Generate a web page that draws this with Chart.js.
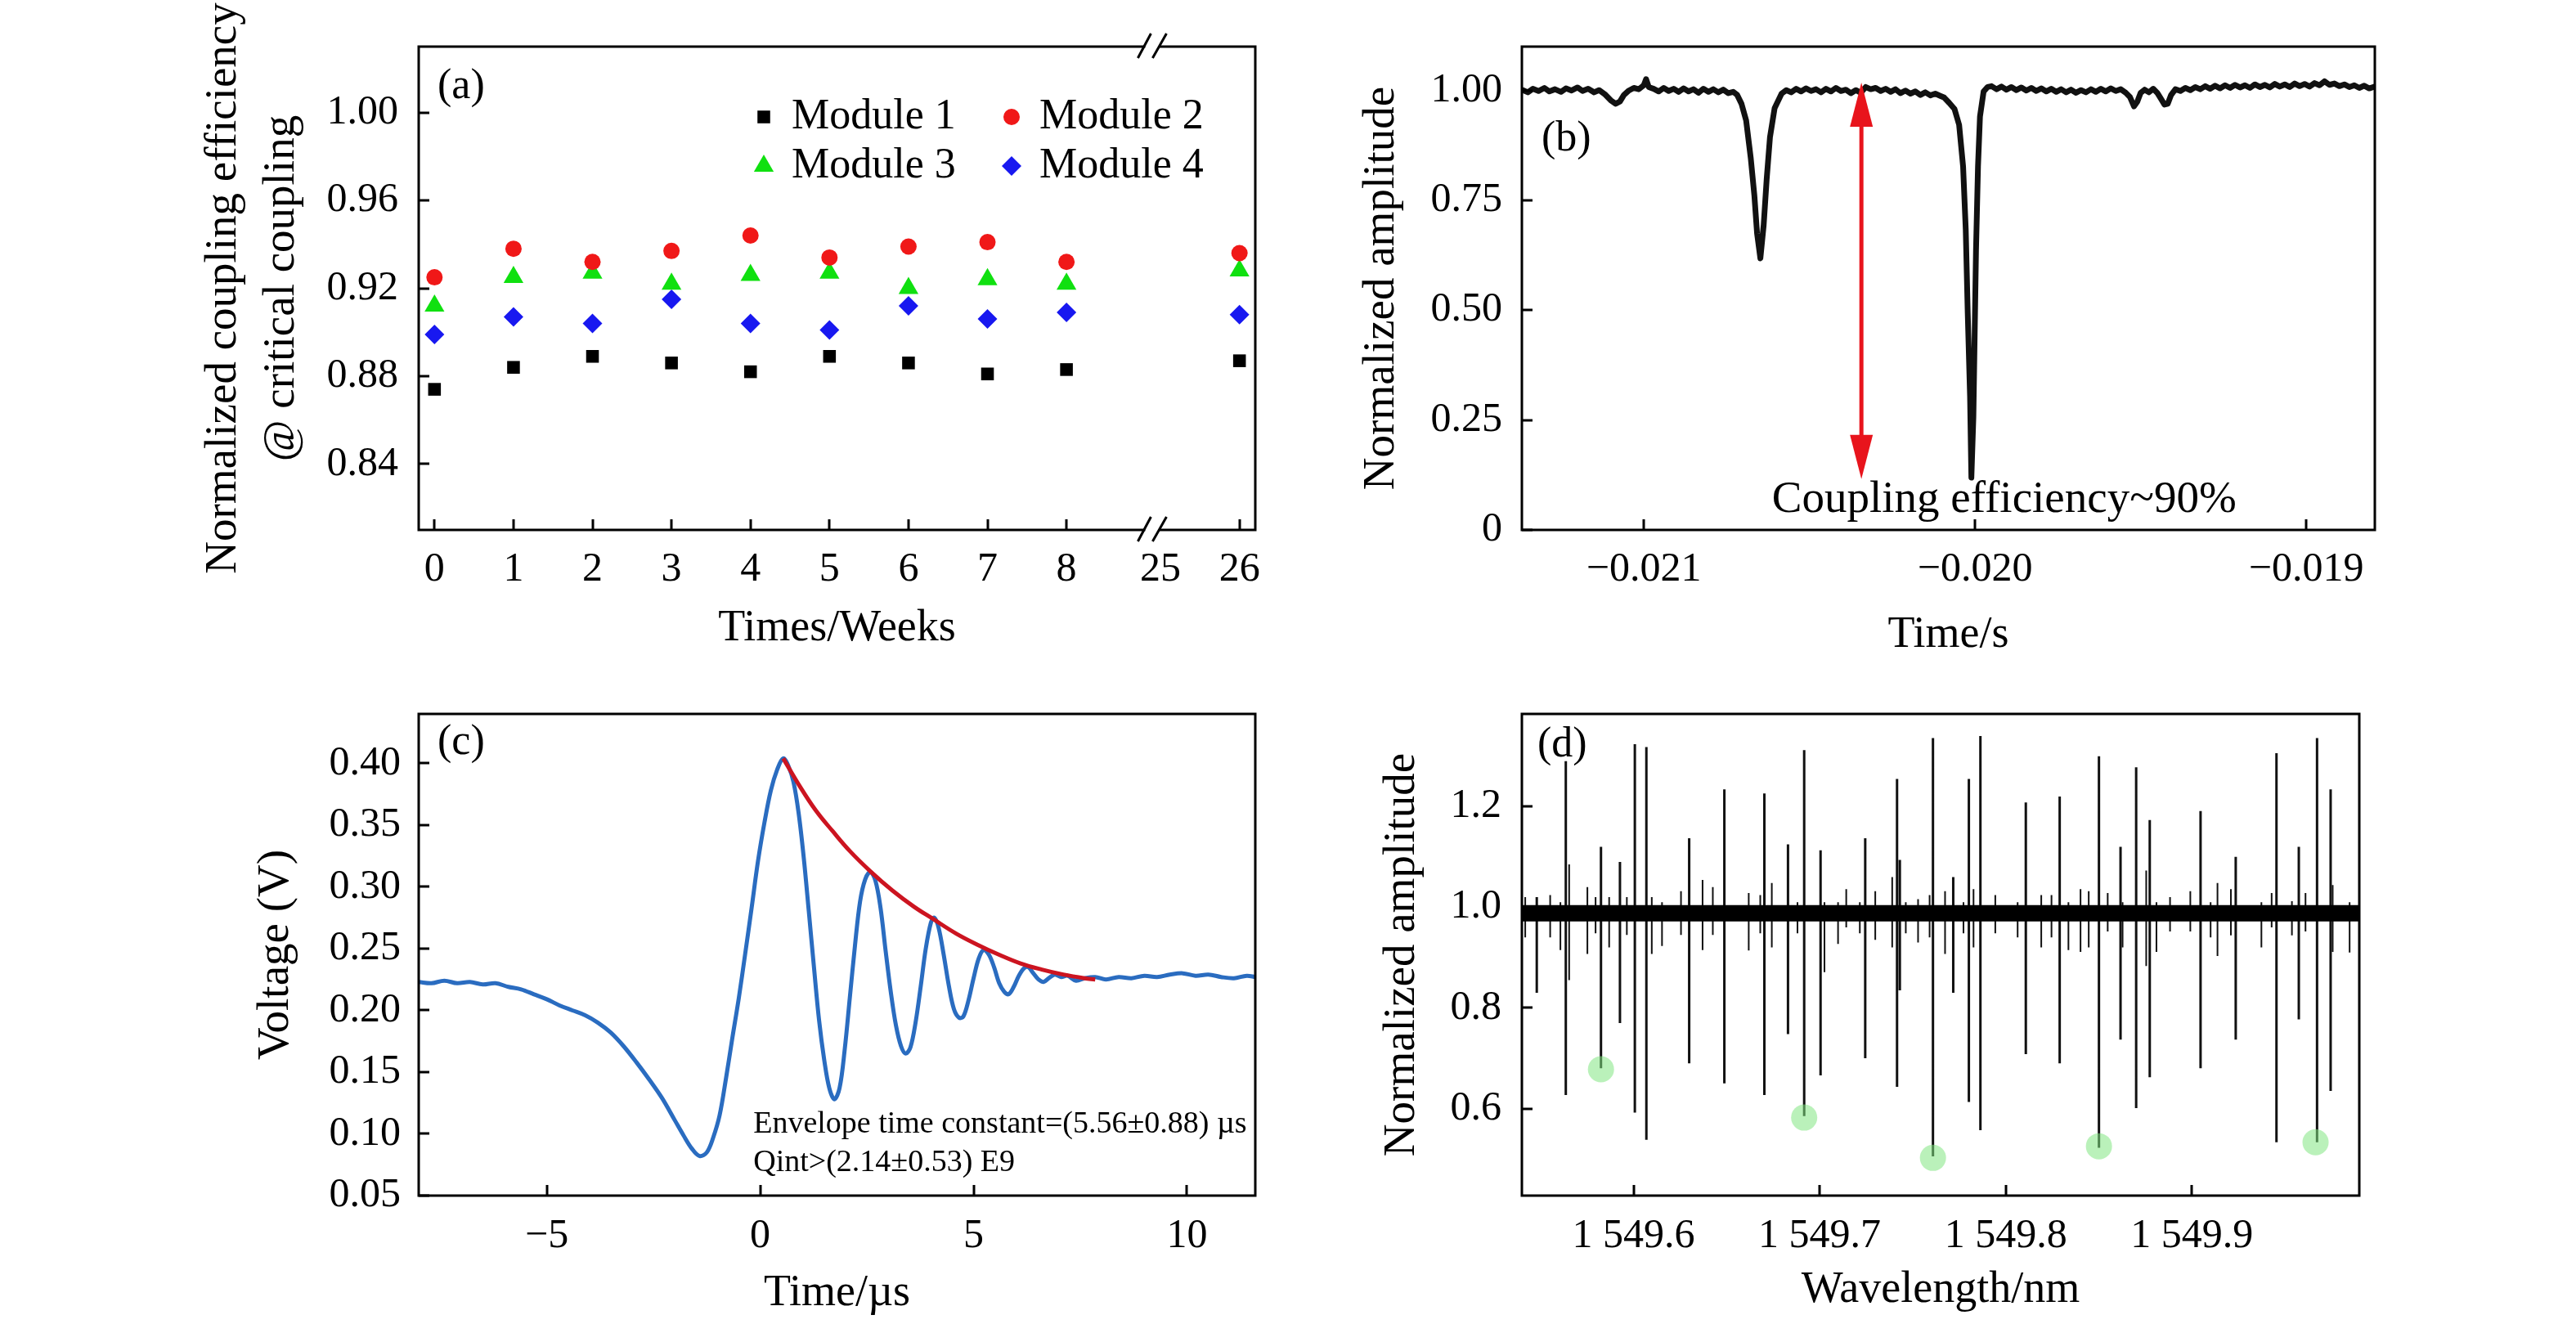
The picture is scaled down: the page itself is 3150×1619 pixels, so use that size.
<!DOCTYPE html>
<html>
<head>
<meta charset="utf-8">
<title>Coupling efficiency, transmission, ring-down and spectrum</title>
<script src="https://cdn.jsdelivr.net/npm/chart.js@4.4.1/dist/chart.umd.min.js"></script>
<style>
  html, body { margin: 0; padding: 0; background: #fff; }
  body { width: 3150px; height: 1619px; position: relative; overflow: hidden; }
  canvas { position: absolute; }
</style>
</head>
<body>
<canvas id="chartA" width="1575" height="810" style="left:0;top:0;width:1575px;height:810px"></canvas>
<canvas id="chartB" width="1575" height="810" style="left:1575px;top:0;width:1575px;height:810px"></canvas>
<canvas id="chartC" width="1575" height="809" style="left:0;top:810px;width:1575px;height:809px"></canvas>
<canvas id="chartD" width="1575" height="809" style="left:1575px;top:810px;width:1575px;height:809px"></canvas>
<script>
const FONT = '"Liberation Serif", "Times New Roman", serif';
Chart.defaults.font.family = FONT;
Chart.defaults.color = '#000';

// ---- (a) coupling efficiency over time ----
const weeks = [0, 1, 2, 3, 4, 5, 6, 7, 8, 26];
const module1 = [0.874, 0.884, 0.889, 0.886, 0.882, 0.889, 0.886, 0.881, 0.883, 0.887];
const module2 = [0.925, 0.938, 0.932, 0.937, 0.944, 0.934, 0.939, 0.941, 0.932, 0.936];
const module3 = [0.912, 0.925, 0.927, 0.922, 0.926, 0.927, 0.920, 0.924, 0.922, 0.928];
const module4 = [0.899, 0.907, 0.904, 0.915, 0.904, 0.901, 0.912, 0.906, 0.909, 0.908];
const weekTicks = [0, 1, 2, 3, 4, 5, 6, 7, 8, 25, 26];
const effTicks = [0.84, 0.88, 0.92, 0.96, 1.00];

// broken time axis: 8 -> 25 squeezed into a short gap
const breakAt = 8, resumeAt = 25, breakGap = 1.19;
const axisPos = w => (w <= breakAt ? w : w - resumeAt + breakAt + breakGap);

// ---- (b) transmission trace ----
const bTime = [
  -0.021368, -0.021350, -0.021335, -0.021318, -0.021300, -0.021285, -0.021268, -0.021250, -0.021235, -0.021218,
  -0.021200, -0.021185, -0.021168, -0.021150, -0.021135, -0.021118, -0.021100, -0.021085, -0.021072, -0.021060,
  -0.021045, -0.021030, -0.021015, -0.021000, -0.020993, -0.020985, -0.020970, -0.020955, -0.020940, -0.020925,
  -0.020910, -0.020895, -0.020880, -0.020865, -0.020850, -0.020835, -0.020820, -0.020805, -0.020790, -0.020775,
  -0.020760, -0.020745, -0.020730, -0.020718, -0.020705, -0.020691, -0.020677, -0.020666, -0.020658, -0.020648,
  -0.020638, -0.020629, -0.020619, -0.020605, -0.020584, -0.020570, -0.020555, -0.020540, -0.020525, -0.020510,
  -0.020495, -0.020480, -0.020465, -0.020450, -0.020435, -0.020420, -0.020405, -0.020390, -0.020375, -0.020360,
  -0.020345, -0.020330, -0.020315, -0.020300, -0.020285, -0.020270, -0.020255, -0.020240, -0.020225, -0.020210,
  -0.020195, -0.020180, -0.020165, -0.020150, -0.020135, -0.020120, -0.020105, -0.020093, -0.020078, -0.020062,
  -0.020048, -0.020036, -0.020028, -0.020022, -0.020015, -0.020011, -0.020005, -0.020001, -0.019997, -0.019991,
  -0.019985, -0.019974, -0.019962, -0.019950, -0.019935, -0.019920, -0.019905, -0.019890, -0.019875, -0.019860,
  -0.019845, -0.019830, -0.019815, -0.019800, -0.019785, -0.019770, -0.019755, -0.019740, -0.019725, -0.019710,
  -0.019695, -0.019680, -0.019665, -0.019650, -0.019635, -0.019620, -0.019605, -0.019590, -0.019575, -0.019560,
  -0.019545, -0.019532, -0.019520, -0.019510, -0.019500, -0.019488, -0.019475, -0.019462, -0.019450, -0.019440,
  -0.019428, -0.019418, -0.019408, -0.019395, -0.019380, -0.019365, -0.019350, -0.019335, -0.019320, -0.019305,
  -0.019290, -0.019275, -0.019260, -0.019245, -0.019230, -0.019215, -0.019200, -0.019185, -0.019170, -0.019155,
  -0.019140, -0.019125, -0.019110, -0.019095, -0.019080, -0.019065, -0.019050, -0.019035, -0.019020, -0.019005,
  -0.018990, -0.018975, -0.018960, -0.018945, -0.018930, -0.018915, -0.018900, -0.018885, -0.018870, -0.018855,
  -0.018840, -0.018825, -0.018810, -0.018793
];
const bAmp = [
  1.002, 0.996, 1.004, 0.999, 1.006, 0.998, 1.003, 0.997, 1.005, 1.000,
  1.007, 0.999, 1.004, 0.996, 1.001, 0.992, 0.978, 0.970, 0.975, 0.990,
  1.000, 1.006, 1.003, 1.012, 1.026, 1.008, 1.004, 0.998, 1.006, 0.999,
  1.004, 0.997, 1.005, 0.998, 1.003, 0.995, 1.004, 0.997, 1.003, 0.996,
  1.002, 0.994, 0.997, 0.990, 0.970, 0.932, 0.846, 0.760, 0.675, 0.618,
  0.694, 0.798, 0.894, 0.960, 0.993, 1.001, 0.996, 1.004, 0.998, 1.005,
  0.999, 1.003, 0.996, 1.004, 0.998, 1.006, 0.999, 1.002, 0.994, 1.001,
  0.995, 1.008, 1.003, 1.006, 0.999, 1.004, 0.997, 1.003, 0.994, 1.000,
  0.993, 0.998, 0.990, 0.996, 0.989, 0.993, 0.988, 0.984, 0.972, 0.958,
  0.922, 0.827, 0.684, 0.494, 0.304, 0.119, 0.257, 0.447, 0.637, 0.827,
  0.941, 0.998, 1.008, 1.010, 1.003, 1.009, 1.002, 1.008, 1.001, 1.007,
  1.000, 1.006, 0.999, 1.005, 0.998, 1.004, 0.997, 1.003, 0.996, 1.002,
  0.995, 1.001, 0.996, 1.003, 0.997, 1.004, 0.998, 1.005, 0.999, 1.003,
  0.995, 0.985, 0.964, 0.975, 0.995, 1.002, 0.996, 1.004, 0.995, 0.983,
  0.968, 0.970, 0.990, 1.003, 0.999, 1.006, 1.001, 1.008, 1.003, 1.010,
  1.004, 1.011, 1.005, 1.012, 1.006, 1.013, 1.007, 1.012, 1.006, 1.014,
  1.008, 1.013, 1.007, 1.015, 1.009, 1.014, 1.008, 1.016, 1.010, 1.015,
  1.009, 1.017, 1.012, 1.021, 1.013, 1.016, 1.010, 1.014, 1.008, 1.012,
  1.006, 1.011, 1.005, 1.009
];
const bTimeTicks = [-0.021, -0.020, -0.019];
const bAmpTicks = [0, 0.25, 0.50, 0.75, 1.00];
const arrowTime = -0.020343, arrowTop = 1.018, arrowBottom = 0.116;

// ---- (c) ring-down ----
const cTime = [
  -8.00, -7.70, -7.40, -7.10, -6.80, -6.50, -6.20, -5.90, -5.60, -5.30,
  -5.00, -4.70, -4.40, -4.10, -3.80, -3.50, -3.20, -2.90, -2.60, -2.30,
  -2.00, -1.80, -1.60, -1.42, -1.25, -1.10, -0.95, -0.80, -0.65, -0.50,
  -0.35, -0.20, -0.05, 0.10, 0.25, 0.40, 0.54, 0.66, 0.78, 0.90,
  1.02, 1.14, 1.26, 1.38, 1.50, 1.62, 1.74, 1.86, 1.98, 2.10,
  2.22, 2.34, 2.46, 2.58, 2.70, 2.82, 2.94, 3.06, 3.18, 3.30,
  3.41, 3.52, 3.64, 3.76, 3.88, 4.00, 4.08, 4.18, 4.30, 4.42,
  4.54, 4.66, 4.76, 4.88, 5.00, 5.12, 5.24, 5.36, 5.48, 5.60,
  5.72, 5.82, 5.94, 6.06, 6.18, 6.28, 6.40, 6.52, 6.64, 6.76,
  6.90, 7.05, 7.20, 7.40, 7.60, 7.85, 8.10, 8.40, 8.70, 9.00,
  9.30, 9.60, 9.90, 10.20, 10.50, 10.80, 11.10, 11.40, 11.60
];
const cVolt = [
  0.223, 0.222, 0.224, 0.222, 0.223, 0.221, 0.222, 0.219, 0.217, 0.213,
  0.209, 0.204, 0.200, 0.196, 0.190, 0.182, 0.171, 0.158, 0.144, 0.129,
  0.111, 0.099, 0.088, 0.082, 0.085, 0.097, 0.115, 0.145, 0.178, 0.210,
  0.246, 0.283, 0.321, 0.352, 0.378, 0.395, 0.404, 0.398, 0.385, 0.360,
  0.324, 0.280, 0.235, 0.192, 0.160, 0.137, 0.128, 0.137, 0.168, 0.210,
  0.252, 0.288, 0.306, 0.312, 0.305, 0.283, 0.248, 0.215, 0.188, 0.171,
  0.165, 0.170, 0.190, 0.219, 0.250, 0.271, 0.275, 0.267, 0.245, 0.220,
  0.201, 0.194, 0.195, 0.208, 0.226, 0.242, 0.249, 0.245, 0.235, 0.222,
  0.215, 0.213, 0.219, 0.228, 0.234, 0.235, 0.230, 0.225, 0.223, 0.226,
  0.229, 0.227, 0.228, 0.224, 0.226, 0.227, 0.225, 0.227, 0.226, 0.228,
  0.227, 0.229, 0.230, 0.228, 0.229, 0.227, 0.226, 0.228, 0.227
];
const cEnvTime = [0.54, 0.90, 1.30, 1.70, 2.10, 2.60, 3.10, 3.60, 4.05, 4.60, 5.10, 5.60, 6.10, 6.60, 7.10, 7.60, 7.85];
const cEnvVolt = [0.404, 0.383, 0.362, 0.345, 0.329, 0.312, 0.297, 0.284, 0.274, 0.262, 0.253, 0.245, 0.238, 0.233, 0.229, 0.226, 0.225];
const cTimeTicks = [-5, 0, 5, 10];
const cVoltTicks = [0.05, 0.10, 0.15, 0.20, 0.25, 0.30, 0.35, 0.40];

// ---- (d) spectrum ----
const dSpikeWl = [
  1549.5480, 1549.5636, 1549.5825, 1549.5927, 1549.6007, 1549.6069, 1549.6299, 1549.6488, 1549.6703, 1549.6830,
  1549.6917, 1549.7005, 1549.7245, 1549.7416, 1549.7431, 1549.7609, 1549.7718, 1549.7802, 1549.7864, 1549.8108,
  1549.8290, 1549.8501, 1549.8617, 1549.8701, 1549.8774, 1549.9047, 1549.9236, 1549.9455, 1549.9575, 1549.9673,
  1549.9746
];
const dSpikeHi = [
  1.020, 1.290, 1.120, 1.090, 1.324, 1.318, 1.137, 1.234, 1.226, 1.125,
  1.312, 1.113, 1.137, 1.255, 1.094, 1.336, 1.060, 1.255, 1.340, 1.208,
  1.220, 1.300, 1.120, 1.278, 1.173, 1.191, 1.100, 1.306, 1.120, 1.336,
  1.234
];
const dSpikeLo = [
  0.830, 0.627, 0.680, 0.770, 0.592, 0.538, 0.690, 0.650, 0.627, 0.748,
  0.585, 0.666, 0.700, 0.643, 0.835, 0.505, 0.830, 0.613, 0.557, 0.708,
  0.690, 0.522, 0.737, 0.601, 0.662, 0.680, 0.737, 0.533, 0.777, 0.533,
  0.635
];
const dNoiseWl = [
  1549.5418, 1549.5552, 1549.5607, 1549.5654, 1549.5752, 1549.5796, 1549.5869, 1549.5964, 1549.6098, 1549.6153,
  1549.6255, 1549.6371, 1549.6426, 1549.6619, 1549.6681, 1549.6743, 1549.6881, 1549.7026, 1549.7099, 1549.7143,
  1549.7216, 1549.7299, 1549.7390, 1549.7463, 1549.7529, 1549.7591, 1549.7674, 1549.7773, 1549.7827, 1549.7944,
  1549.8064, 1549.8191, 1549.8246, 1549.8337, 1549.8402, 1549.8446, 1549.8548, 1549.8628, 1549.8755, 1549.8810,
  1549.8883, 1549.8992, 1549.9101, 1549.9138, 1549.9210, 1549.9374, 1549.9429, 1549.9538, 1549.9611, 1549.9757,
  1549.9848
];
const dNoiseHi = [
  1.020, 1.024, 1.010, 1.085, 1.040, 1.020, 1.020, 1.020, 1.020, 1.010,
  1.032, 1.054, 1.040, 1.028, 1.024, 1.048, 1.010, 1.010, 1.010, 1.036,
  1.010, 1.032, 1.060, 1.010, 1.016, 1.024, 1.032, 1.010, 1.036, 1.024,
  1.010, 1.024, 1.024, 1.010, 1.036, 1.032, 1.028, 1.010, 1.073, 1.010,
  1.020, 1.032, 1.010, 1.048, 1.036, 1.010, 1.028, 1.012, 1.028, 1.044,
  1.010
];
const dNoiseLo = [
  0.940, 0.940, 0.915, 0.855, 0.907, 0.948, 0.920, 0.945, 0.907, 0.923,
  0.945, 0.915, 0.945, 0.914, 0.948, 0.920, 0.948, 0.871, 0.927, 0.960,
  0.948, 0.935, 0.920, 0.948, 0.930, 0.940, 0.907, 0.948, 0.920, 0.948,
  0.940, 0.920, 0.940, 0.915, 0.911, 0.920, 0.952, 0.920, 0.883, 0.911,
  0.952, 0.952, 0.940, 0.903, 0.944, 0.920, 0.960, 0.944, 0.952, 0.911,
  0.910
];
const dBaseWl = [1549.54, 1549.99];
const dBaseAmp = [0.988, 0.988];
const dMarkWl = [1549.5825, 1549.6917, 1549.7609, 1549.8501, 1549.9665];
const dMarkAmp = [0.678, 0.582, 0.502, 0.525, 0.533];
const dWlTicks = [1549.6, 1549.7, 1549.8, 1549.9];
const dAmpTicks = [0.6, 0.8, 1.0, 1.2];

// ---- helpers ----
const minus = s => s.replace('-', '\u2212');

function xAxis(min, max, positions, labels, title, boxHeight, labelPad, titlePad) {
  return {
    type: 'linear', min, max, offset: false, bounds: 'data',
    afterBuildTicks: s => { s.ticks = positions.map(v => ({ value: v })); },
    afterFit: s => { s.height = boxHeight; },
    ticks: {
      callback: (v, i) => labels[i], autoSkip: false, maxRotation: 0, minRotation: 0,
      padding: labelPad, font: { size: 50, lineHeight: 1 }
    },
    grid: { display: false, drawTicks: false },
    border: { display: false },
    title: { display: true, text: title, font: { size: 54, lineHeight: 1 }, padding: { top: 0, bottom: titlePad } }
  };
}

function yAxis(min, max, positions, labels, title, boxWidth, labelPad, titlePad, titleLH) {
  return {
    type: 'linear', min, max, bounds: 'data',
    afterBuildTicks: s => { s.ticks = positions.map(v => ({ value: v })); },
    afterFit: s => { s.width = boxWidth; },
    ticks: { callback: (v, i) => labels[i], autoSkip: false, padding: labelPad, font: { size: 50, lineHeight: 1 } },
    grid: { display: false, drawTicks: false },
    border: { display: false },
    title: { display: true, text: title, font: { size: 55, lineHeight: titleLH || 1 }, padding: { top: titlePad, bottom: 0 } }
  };
}

// box, inward ticks, axis break and panel letter
const framePlugin = {
  id: 'frame',
  afterDraw(chart, args, opts) {
    const { ctx, chartArea: a, scales: { x, y } } = chart;
    const skip = opts.skipX || [];
    ctx.save();
    ctx.strokeStyle = '#000';
    ctx.lineWidth = 3;
    ctx.strokeRect(a.left, a.top, a.width, a.height);
    ctx.beginPath();
    x.ticks.forEach(t => {
      if (skip.includes(t.value)) return;
      const px = Math.round(x.getPixelForValue(t.value));
      ctx.moveTo(px, a.bottom);
      ctx.lineTo(px, a.bottom - 13);
    });
    y.ticks.forEach(t => {
      const py = Math.round(y.getPixelForValue(t.value));
      ctx.moveTo(a.left, py);
      ctx.lineTo(a.left + 13, py);
    });
    ctx.stroke();

    if (opts.breakPos !== undefined) {
      const px = x.getPixelForValue(opts.breakPos);
      [a.top, a.bottom].forEach(ey => {
        ctx.fillStyle = '#fff';
        ctx.fillRect(px - 9, ey - 4, 17, 8);
        ctx.beginPath();
        ctx.moveTo(px - 18, ey + 14); ctx.lineTo(px - 2, ey - 16);
        ctx.moveTo(px, ey + 14); ctx.lineTo(px + 17, ey - 16);
        ctx.stroke();
      });
    }

    ctx.fillStyle = '#000';
    ctx.font = '52px ' + FONT;
    ctx.textAlign = 'left';
    ctx.textBaseline = 'middle';
    ctx.fillText(opts.letter, a.left + opts.letterDx, a.top + opts.letterDy);
    ctx.restore();
  }
};

// free text placed at data coordinates
const notePlugin = {
  id: 'notes',
  afterDraw(chart, args, opts) {
    const { ctx, scales: { x, y } } = chart;
    ctx.save();
    (opts.items || []).forEach(n => {
      ctx.font = n.size + 'px ' + FONT;
      ctx.fillStyle = '#000';
      ctx.textAlign = 'left';
      ctx.textBaseline = 'middle';
      ctx.fillText(n.text, x.getPixelForValue(n.x), y.getPixelForValue(n.y));
    });
    ctx.restore();
  }
};

// two-column legend inside the plot of (a)
const moduleLegend = {
  id: 'moduleLegend',
  afterDraw(chart, args, opts) {
    const { ctx, chartArea: a } = chart;
    ctx.save();
    chart.data.datasets.forEach((ds, i) => {
      const mx = a.left + opts.dx + (i % 2) * opts.colGap;
      const my = a.top + opts.dy + Math.floor(i / 2) * opts.rowGap;
      ctx.fillStyle = ds.backgroundColor;
      Chart.helpers.drawPoint(ctx, { pointStyle: ds.pointStyle, radius: ds.pointRadius, rotation: 0, borderWidth: 0 }, mx, my);
      ctx.fillStyle = '#000';
      ctx.font = '52px ' + FONT;
      ctx.textAlign = 'left';
      ctx.textBaseline = 'middle';
      ctx.fillText(ds.label, mx + 34, my);
    });
    ctx.restore();
  }
};

// red double-headed arrow of (b)
const arrowPlugin = {
  id: 'arrow',
  afterDatasetsDraw(chart, args, o) {
    if (!o.color) return;
    const { ctx, scales: { x, y } } = chart;
    const px = x.getPixelForValue(o.x);
    const top = y.getPixelForValue(o.top);
    const bot = y.getPixelForValue(o.bottom);
    ctx.save();
    ctx.strokeStyle = o.color;
    ctx.fillStyle = o.color;
    ctx.lineWidth = 5;
    ctx.beginPath();
    ctx.moveTo(px, top + o.head - 2);
    ctx.lineTo(px, bot - o.head + 2);
    ctx.stroke();
    ctx.beginPath();
    ctx.moveTo(px, top); ctx.lineTo(px - o.half, top + o.head); ctx.lineTo(px + o.half, top + o.head);
    ctx.closePath(); ctx.fill();
    ctx.beginPath();
    ctx.moveTo(px, bot); ctx.lineTo(px - o.half, bot - o.head); ctx.lineTo(px + o.half, bot - o.head);
    ctx.closePath(); ctx.fill();
    ctx.restore();
  }
};

const baseOptions = (padding) => ({
  responsive: false,
  animation: false,
  devicePixelRatio: 1,
  layout: { padding },
  plugins: { legend: { display: false }, tooltip: { enabled: false } }
});

// ---- chart (a) ----
const markerSet = (label, values, color, style, radius) => ({
  label,
  data: weeks.map((w, i) => ({ x: axisPos(w), y: values[i] })),
  backgroundColor: color,
  borderWidth: 0,
  pointStyle: style,
  pointRadius: radius,
  showLine: false
});

const optsA = baseOptions({ left: 0, top: 57, right: 40, bottom: 0 });
optsA.scales = {
  x: xAxis(-0.2, 10.39, weekTicks.map(axisPos), weekTicks.map(String), 'Times/Weeks', 162, 24, 14),
  y: yAxis(0.81, 1.03, effTicks, effTicks.map(v => v.toFixed(2)),
    ['Normalized coupling efficiency', '@ critical coupling'], 512, 25, 238.5, 1.29)
};
optsA.plugins.frame = { letter: '(a)', letterDx: 23, letterDy: 49, skipX: [axisPos(25)], breakPos: 9.09 };
optsA.plugins.moduleLegend = { dx: 422, dy: 86, colGap: 303, rowGap: 60 };

new Chart(document.getElementById('chartA'), {
  type: 'scatter',
  data: {
    datasets: [
      markerSet('Module 1', module1, '#000000', 'rect', 11),
      markerSet('Module 2', module2, '#f01818', 'circle', 10),
      markerSet('Module 3', module3, '#10e010', 'triangle', 14),
      markerSet('Module 4', module4, '#1818f0', 'rectRot', 12)
    ]
  },
  options: optsA,
  plugins: [framePlugin, moduleLegend]
});

// ---- chart (b) ----
const optsB = baseOptions({ left: 0, top: 57, right: 246, bottom: 0 });
optsB.scales = {
  x: xAxis(-0.021368, -0.018793, bTimeTicks, bTimeTicks.map(v => minus(v.toFixed(3))), 'Time/s', 162, 24, 6),
  y: yAxis(0, 1.10, bAmpTicks, bAmpTicks.map(v => (v === 0 ? '0' : v.toFixed(2))), 'Normalized amplitude', 286, 24, 87.5)
};
optsB.plugins.frame = { letter: '(b)', letterDx: 24, letterDy: 113 };
optsB.plugins.arrow = { x: arrowTime, top: arrowTop, bottom: arrowBottom, head: 54, half: 14, color: '#e8141c' };
optsB.plugins.notes = { items: [{ text: 'Coupling efficiency~90%', x: -0.020613, y: 0.067, size: 55 }] };

new Chart(document.getElementById('chartB'), {
  type: 'line',
  data: {
    datasets: [{
      data: bTime.map((t, i) => ({ x: t, y: bAmp[i] })),
      borderColor: '#111111',
      borderWidth: 7,
      pointRadius: 0,
      tension: 0,
      borderJoinStyle: 'round'
    }]
  },
  options: optsB,
  plugins: [framePlugin, arrowPlugin, notePlugin]
});

// ---- chart (c) ----
const optsC = baseOptions({ left: 0, top: 63, right: 40, bottom: 0 });
optsC.scales = {
  x: xAxis(-8, 11.6, cTimeTicks, cTimeTicks.map(v => minus(String(v))), 'Time/\u00b5s', 157, 25, 10),
  y: yAxis(0.05, 0.44, cVoltTicks, cVoltTicks.map(v => v.toFixed(2)), 'Voltage (V)', 512, 22, 310.5)
};
optsC.plugins.frame = { letter: '(c)', letterDx: 23, letterDy: 35 };
optsC.plugins.notes = {
  items: [
    { text: 'Envelope time constant=(5.56\u00b10.88) \u00b5s', x: -0.16, y: 0.1075, size: 38 },
    { text: 'Qint>(2.14\u00b10.53) E9', x: -0.16, y: 0.0765, size: 38 }
  ]
};

new Chart(document.getElementById('chartC'), {
  type: 'line',
  data: {
    datasets: [
      {
        data: cEnvTime.map((t, i) => ({ x: t, y: cEnvVolt[i] })),
        borderColor: '#cc1420',
        borderWidth: 5,
        pointRadius: 0,
        tension: 0.4,
        order: 0
      },
      {
        data: cTime.map((t, i) => ({ x: t, y: cVolt[i] })),
        borderColor: '#2a6cc0',
        borderWidth: 5,
        pointRadius: 0,
        tension: 0.35,
        order: 1
      }
    ]
  },
  options: optsC,
  plugins: [framePlugin, notePlugin]
});

// ---- chart (d) ----
const spikePoints = (wl, hi, lo) => wl.flatMap((w, i) => [
  { x: w, y: lo[i] }, { x: w, y: hi[i] }, { x: w, y: null }
]);

const optsD = baseOptions({ left: 0, top: 63, right: 265, bottom: 0 });
optsD.scales = {
  x: xAxis(1549.54, 1549.99, dWlTicks, dWlTicks.map(v => { const s = v.toFixed(1); return s[0] + ' ' + s.slice(1); }),
    'Wavelength/nm', 157, 25, 14),
  y: yAxis(0.427, 1.384, dAmpTicks, dAmpTicks.map(v => v.toFixed(1)), 'Normalized amplitude', 286, 25, 112.5)
};
optsD.plugins.frame = { letter: '(d)', letterDx: 19, letterDy: 38 };

new Chart(document.getElementById('chartD'), {
  type: 'line',
  data: {
    datasets: [
      {
        type: 'scatter',
        data: dMarkWl.map((w, i) => ({ x: w, y: dMarkAmp[i] })),
        backgroundColor: 'rgba(130, 230, 130, 0.55)',
        borderWidth: 0,
        pointRadius: 16,
        order: 0
      },
      {
        data: dBaseWl.map((w, i) => ({ x: w, y: dBaseAmp[i] })),
        borderColor: '#000',
        borderWidth: 20,
        pointRadius: 0,
        order: 1
      },
      {
        data: spikePoints(dSpikeWl, dSpikeHi, dSpikeLo),
        borderColor: '#111',
        borderWidth: 3,
        pointRadius: 0,
        spanGaps: false,
        order: 2
      },
      {
        data: spikePoints(dNoiseWl, dNoiseHi, dNoiseLo),
        borderColor: '#111',
        borderWidth: 2,
        pointRadius: 0,
        spanGaps: false,
        order: 3
      }
    ]
  },
  options: optsD,
  plugins: [framePlugin]
});
</script>
</body>
</html>
